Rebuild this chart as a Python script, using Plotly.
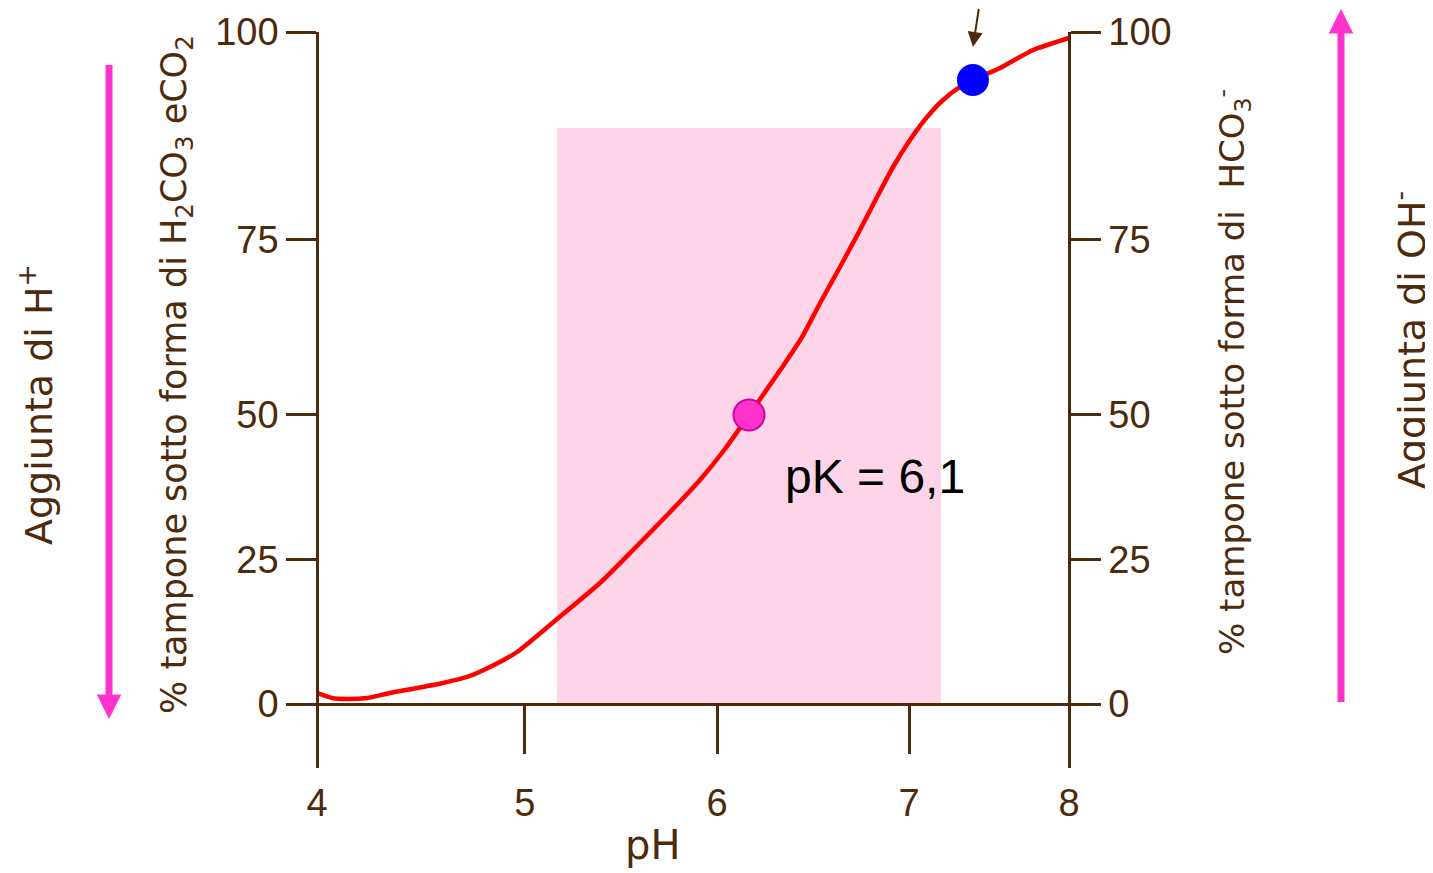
import plotly.graph_objects as go

# ---------------- data ----------------
# titration curve of the bicarbonate buffer, in the drawing's axis units
curve_ph = [4.000, 4.080, 4.160, 4.266, 4.388, 4.532, 4.670, 4.798, 4.920, 5.064,
            5.277, 5.505, 5.681, 5.878, 6.037, 6.170, 6.298, 6.479, 6.580, 6.676,
            6.782, 6.888, 6.979, 7.064, 7.154, 7.245, 7.330, 7.420, 7.489, 7.633,
            7.809, 8.000]
curve_pct = [1.64, 0.89, 0.74, 0.89, 1.64, 2.38, 3.13, 4.02, 5.51, 7.74,
             12.65, 18.01, 22.92, 28.57, 33.33, 37.95, 43.01, 50.30, 54.61, 59.67,
             65.03, 70.54, 75.45, 79.91, 83.93, 87.35, 89.88, 91.82, 92.86, 94.64,
             97.32, 99.11]

pk_point = (6.298, 43.01)        # pK = 6,1 marker
blood_point = (7.489, 92.86)     # blue marker
arrow_tip = (7.489, 97.77)

buffer_zone_ph = [5.277, 7.319]  # pink band
buffer_zone_top = 85.71

x_tick_pos = [4.0, 5.106, 6.128, 7.149, 8.0]
x_tick_text = ["4", "5", "6", "7", "8"]
y_tick_pos = [0.0, 21.43, 43.01, 69.05, 100.0]
y_tick_text = ["0", "25", "50", "75", "100"]

pk_label = "pK = 6,1"

# ---------------- layout geometry ----------------
PAGE_W, PAGE_H = 1433, 873
OFF = 8                                   # default body margin of the html page
L, R, T, B = 301, 1085, 32, 768           # plot area in page px
BROWN = "#4D2A0B"
PINK = "#FF33CC"
COMIC = "DejaVu Sans"
ARIAL = "Liberation Sans, Arial"

def px(xp):
    return (xp - L) / (R - L)

def py(yp):
    return (B - yp) / (B - T)

fig = go.Figure()

fig.add_shape(type="rect", xref="x", yref="y",
              x0=buffer_zone_ph[0], x1=buffer_zone_ph[1], y0=0, y1=buffer_zone_top,
              fillcolor="#FED5E8", line=dict(width=0), layer="below")

fig.add_trace(go.Scatter(
    x=curve_ph, y=curve_pct, mode="lines",
    line=dict(color="#FF0000", width=4.5, shape="spline", smoothing=0.6),
    hoverinfo="skip", showlegend=False))

fig.add_trace(go.Scatter(
    x=[pk_point[0]], y=[pk_point[1]], mode="markers",
    marker=dict(size=31, color=PINK, line=dict(color="#C8089A", width=2)),
    showlegend=False))

fig.add_trace(go.Scatter(
    x=[blood_point[0]], y=[blood_point[1]], mode="markers",
    marker=dict(size=32, color="#0000FF", line=dict(width=0)),
    showlegend=False))

# invisible trace to activate the right axis
fig.add_trace(go.Scatter(x=[curve_ph[0]], y=[curve_pct[0]], yaxis="y2",
                         mode="markers", marker=dict(opacity=0),
                         hoverinfo="skip", showlegend=False))

x_range = [4 - (317 - L) / 188, 8 + (R - 1069) / 188]
y_range = [-(B - 704) / 6.72, 100]

tickfont = dict(family=ARIAL, size=38, color=BROWN)

fig.update_layout(
    width=PAGE_W - OFF, height=PAGE_H - OFF,
    margin=dict(l=L - OFF, r=PAGE_W - R, t=T - OFF, b=PAGE_H - B, pad=0,
                autoexpand=False),
    paper_bgcolor="white", plot_bgcolor="white",
    showlegend=False,
    xaxis=dict(range=x_range, anchor="free", position=py(704), automargin=False,
               showgrid=False, zeroline=False,
               showline=True, linecolor=BROWN, linewidth=2.5,
               ticks="outside", ticklen=48, tickwidth=2.5, tickcolor=BROWN,
               ticklabelstandoff=17,
               tickvals=x_tick_pos, ticktext=x_tick_text, tickfont=tickfont),
    yaxis=dict(range=y_range, anchor="free", position=px(317), side="left",
               automargin=False,
               showgrid=False, zeroline=False,
               showline=True, linecolor=BROWN, linewidth=2.5,
               ticks="outside", ticklen=30, tickwidth=2.5, tickcolor=BROWN,
               tickvals=y_tick_pos, ticktext=y_tick_text, tickfont=tickfont),
    yaxis2=dict(range=y_range, anchor="free", position=px(1069), side="right",
                overlaying="y", automargin=False,
                showgrid=False, zeroline=False,
                showline=True, linecolor=BROWN, linewidth=2.5,
                ticks="outside", ticklen=30, tickwidth=2.5, tickcolor=BROWN,
                tickvals=y_tick_pos, ticktext=y_tick_text, tickfont=tickfont),
)

annos = []
def text_anno(text, xp, yp, size, angle=0, family=COMIC, color=BROWN):
    annos.append(dict(text=text, x=px(xp), y=py(yp), xref="paper", yref="paper",
                      showarrow=False, textangle=angle, xanchor="center",
                      yanchor="middle", font=dict(family=family, size=size, color=color)))

text_anno("Aggiunta di H<sup>+</sup>", 36, 405, 38, -90)
text_anno("% tampone sotto forma di H<sub>2</sub>CO<sub>3</sub> eCO<sub>2</sub>", 176, 375, 35, -90)
text_anno("% tampone sotto forma di  HCO<sub>3</sub><sup>-</sup>", 1232, 372, 34, -90)
text_anno("Aggiunta di OH<sup>-</sup>", 1409, 340, 38, -90)
text_anno("pH", 652, 845, 40)

annos.append(dict(text=pk_label, x=6.968, y=33.8, xref="x", yref="y",
                  showarrow=False, xanchor="center", yanchor="middle",
                  font=dict(family=ARIAL, size=48, color="black")))

# arrow pointing at the blue marker
annos.append(dict(text=" ", x=arrow_tip[0], y=arrow_tip[1], xref="x", yref="y",
                  showarrow=True, ax=6, ay=-52, arrowhead=2, arrowsize=1.5,
                  arrowwidth=2, arrowcolor=BROWN, standoff=0, borderpad=0,
                  font=dict(size=1)))

# pink side arrows
annos.append(dict(text=" ", x=px(109), y=py(719), xref="paper", yref="paper",
                  showarrow=True, ax=0, ay=-655, arrowhead=2, arrowsize=0.7,
                  arrowwidth=7, arrowcolor=PINK, standoff=0, borderpad=0,
                  font=dict(size=1)))
annos.append(dict(text=" ", x=px(1341), y=py(2), xref="paper", yref="paper",
                  showarrow=True, ax=0, ay=701, arrowhead=2, arrowsize=0.7,
                  arrowwidth=7, arrowcolor=PINK, standoff=0, borderpad=0,
                  font=dict(size=1)))

fig.update_layout(annotations=annos)

fig.write_html("out.html")
